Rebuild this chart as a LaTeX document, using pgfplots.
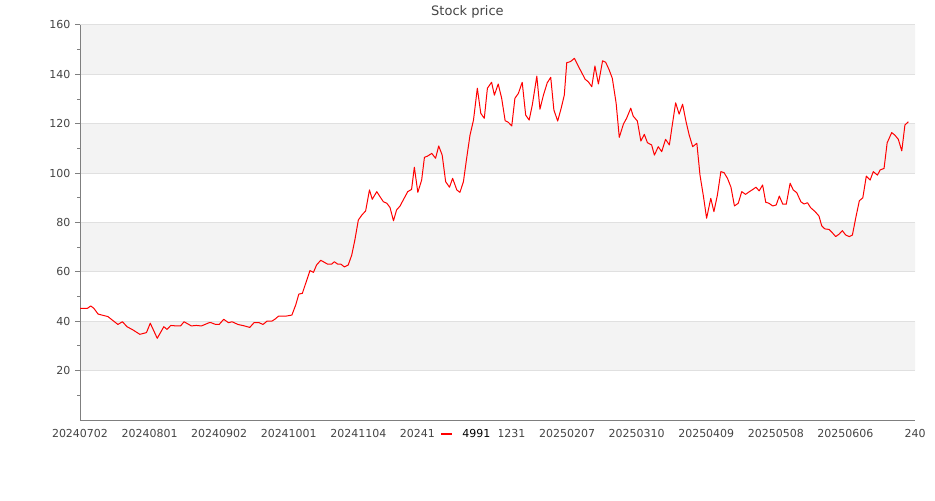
\documentclass[border=0pt]{standalone}
\usepackage{fontspec}
\setmainfont{DejaVu Sans}
\usepackage{pgfplots}
\pgfplotsset{compat=1.18}
\definecolor{band}{HTML}{F3F3F3}
\definecolor{gridc}{HTML}{E0E0E0}
\definecolor{axc}{HTML}{7F7F7F}
\definecolor{tickc}{HTML}{444444}

\begin{document}
\begin{tikzpicture}
\begin{axis}[
    set layers,
    at={(60pt,60pt)}, anchor=south west,
    scale only axis,
    width=626.25pt, height=296.25pt,
    xmin=0, xmax=240, ymin=0, ymax=160,
    axis x line*=bottom, axis y line*=left,
    axis line style={axc, line width=0.75pt},
    xtick={0,20,...,240},
    xticklabels={20240702,20240801,20240902,20241001,20241104,20241202,20241231,20250207,20250310,20250409,20250508,20250606,240},
    x tick style={draw=none},
    ytick={20,40,...,160},
    minor ytick={10,30,...,150},
    tick align=outside,
    y tick style={axc, line width=0.75pt},
    major tick length=3.75pt,
    minor tick length=2.25pt,
    ymajorgrids,
    major grid style={gridc, line width=0.75pt},
    tick label style={text=tickc, font=\fontsize{8.25}{10}\selectfont},
    /pgf/number format/assume math mode=true,
    yticklabel style={xshift=0pt},
    xticklabel style={yshift=0pt},
    legend style={at={(0.464,-0.036)}, anchor=center, fill=white, draw=none,
        font=\fontsize{8.25}{10}\selectfont, inner xsep=3.75pt, inner ysep=1pt,
        nodes={inner xsep=0pt, inner ysep=2pt},
        /tikz/every odd column/.append style={column sep=6.75pt}},
    legend image code/.code={\draw[red, line width=1.5pt] (0pt,0pt) -- (8.25pt,0pt);},
]
\addplot[draw=none, fill=band, forget plot, on layer=axis background] coordinates {(0,140) (240,140) (240,160) (0,160) (0,140)};
\addplot[draw=none, fill=band, forget plot, on layer=axis background] coordinates {(0,100) (240,100) (240,120) (0,120) (0,100)};
\addplot[draw=none, fill=band, forget plot, on layer=axis background] coordinates {(0,60) (240,60) (240,80) (0,80) (0,60)};
\addplot[draw=none, fill=band, forget plot, on layer=axis background] coordinates {(0,20) (240,20) (240,40) (0,40) (0,20)};
\addplot[red, line width=0.75pt, line join=round] coordinates {
(0,45.2) (2.1,45.2) (3.1,46.2) (4.0,45.2) (5.2,42.9) (6.6,42.4) (8.0,41.9) (9.0,40.8)
(10.9,38.7) (12.2,39.8) (13.5,37.8) (15.2,36.5) (17.2,34.7) (19.1,35.4) (20.2,39.2)
(22.2,33.1) (24.1,37.8) (25.0,36.7) (26.1,38.3) (27.7,38.1) (28.9,38.1) (29.9,39.8)
(32.0,38.1) (33.4,38.3) (34.9,38.1) (37.1,39.4) (37.7,39.4) (39.0,38.7) (40.0,38.7)
(41.3,40.8) (42.7,39.4) (43.7,39.8) (45.4,38.7) (47.3,38.1) (48.8,37.5) (50.0,39.4)
(51.5,39.4) (52.6,38.7) (53.8,40.1) (55.2,40.1) (56.0,40.8) (57.1,42.1) (59.3,42.1)
(60.9,42.5) (62.0,46.6) (62.9,51.0) (63.9,51.3) (66.1,60.5) (67.1,59.8) (68.0,62.8)
(69.2,64.7) (71.2,63.1) (72.3,63.1) (73.1,64.1) (74.1,63.1) (75.0,63.1) (76.0,62.0)
(77.1,62.8) (78.1,66.8) (79.0,72.9) (80.0,81.0) (81.0,83.0) (82.1,84.7) (83.2,93.2)
(84.0,89.4) (85.3,92.5) (86.2,90.5) (87.2,88.4) (88.2,87.8) (89.1,86.1) (90.1,80.7)
(91.0,85.1) (92.0,86.7) (92.9,89.1) (94.2,92.5) (95.3,93.4) (96.1,102.4) (97.1,92.2)
(98.2,97.2) (99.0,106.4) (99.9,106.9) (101.1,108.0) (102.2,106.0) (103.1,111.0)
(104.1,107.3) (105.1,96.5) (106.2,94.3) (107.1,97.9) (108.3,93.2) (109.2,92.2)
(110.2,96.5) (111.2,106.7) (112.1,115.4) (113.1,121.5) (114.2,134.4) (115.2,124.2)
(116.2,122.2) (117.1,134.4) (118.3,136.8) (119.1,131.6) (120.2,136.1) (121.2,130.3)
(122.2,121.2) (123.1,120.6) (124.1,119.1) (125.0,130.3) (126.0,132.3) (127.1,136.8)
(128.1,123.5) (129.1,121.5) (130.0,127.6) (131.3,139.3) (132.2,125.9) (133.2,131.6)
(134.3,136.6) (135.3,138.8) (136.2,125.6) (137.3,121.1) (138.3,126.3) (139.2,131.6)
(139.9,144.7) (141.0,145.2) (142.1,146.5) (143.2,143.4) (144.2,140.7) (145.2,138.0)
(146.1,137.0) (147.1,135.0) (148.0,143.4) (149.0,136.1) (150.2,145.5) (151.1,144.9)
(152.1,141.8) (153.0,138.4) (154.1,128.3) (155.0,114.5) (156.2,119.9) (157.1,122.2)
(158.3,126.3) (159.0,123.1) (160.2,121.1) (161.2,113.0) (162.2,115.7) (163.1,112.3)
(164.3,111.4) (165.1,107.3) (166.2,110.7) (167.2,108.7) (168.3,113.7) (169.4,111.4)
(170.1,118.2) (171.2,128.5) (172.2,123.9) (173.2,127.9) (174.2,120.8) (175.1,115.4)
(176.1,110.7) (177.3,112.1) (178.2,99.2) (179.2,90.5) (180.1,81.7) (181.3,89.8)
(182.2,84.4) (183.2,91.1) (184.2,100.6) (185.1,100.2) (186.1,97.9) (187.1,94.3)
(188.1,86.7) (189.2,87.8) (190.2,92.5) (191.3,91.4) (192.4,92.5) (193.4,93.4)
(194.3,94.3) (195.2,92.8) (196.2,95.2) (197.1,88.2) (198.0,87.8) (199.1,86.7)
(200.1,87.1) (201.0,90.7) (202.0,87.4) (203.0,87.4) (204.1,95.9) (205.0,93.2)
(206.0,92.1) (207.2,88.4) (208.1,87.5) (209.1,88.0) (210.0,86.0) (211.3,84.4)
(212.4,82.6) (213.2,78.6) (214.1,77.4) (215.3,77.2) (216.2,75.9) (217.2,74.3)
(218.2,75.3) (219.1,76.7) (220.1,74.9) (221.1,74.3) (222.0,74.9) (223.0,82.1)
(224.0,88.8) (225.0,90.0) (226.0,98.8) (227.1,97.2) (228.0,100.6) (229.2,99.2)
(230.0,101.3) (231.1,101.9) (232.0,112.3) (233.3,116.4) (234.2,115.4) (235.2,113.7)
(236.2,109.0) (237.1,119.5) (238.1,120.8)
};
\addlegendentry{\makebox[24pt][l]{4991}}
\end{axis}
\node[text=tickc, font=\fontsize{9.75}{11}\selectfont] at (350.6pt,366pt) {Stock price};
\pgfresetboundingbox
\path[use as bounding box] (0pt,0pt) rectangle (701.25pt,375pt);
\end{tikzpicture}
\end{document}
